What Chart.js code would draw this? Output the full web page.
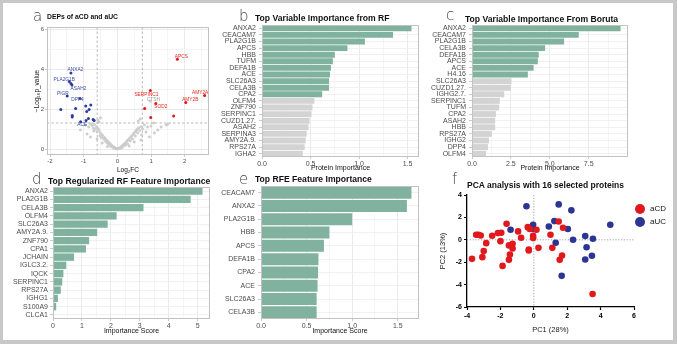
<!DOCTYPE html>
<html>
<head>
<meta charset="utf-8">
<script src="https://cdn.jsdelivr.net/npm/chart.js@4.4.0/dist/chart.umd.min.js"></script>
<style>
  body { margin: 0; background: #fff; }
  #fig { position: relative; width: 677px; height: 344px; overflow: hidden; background: #fff; }
  #frame { position: absolute; left: 0; top: 0; right: 0; bottom: 0; border: solid #c8c8c8; border-width: 3px 4px 4px 3px; pointer-events: none; }
  canvas { position: absolute; }
  .lbl { position: absolute; font-family: "Liberation Sans", Arial, sans-serif; white-space: nowrap; line-height: 1; color: #111; }
  .letter { font-family: "DejaVu Sans", sans-serif; font-weight: 200; font-size: 15px; color: #444; }
  .ttl { font-weight: bold; font-size: 8.6px; }
  .dot { position: absolute; width: 10px; height: 10px; border-radius: 50%; }
</style>
</head>
<body>
<div id="fig">
  <canvas id="chartA"></canvas>
  <canvas id="chartB"></canvas>
  <canvas id="chartC"></canvas>
  <canvas id="chartD"></canvas>
  <canvas id="chartE"></canvas>
  <canvas id="chartF"></canvas>

  <div class="lbl letter" style="left:33px;top:9px">a</div>
  <div class="lbl ttl" style="left:47px;top:13.5px;font-size:6.8px">DEPs of aCD and aUC</div>
  <div class="lbl letter" style="left:239px;top:9px">b</div>
  <div class="lbl ttl" style="left:255px;top:13.5px">Top Variable Importance from RF</div>
  <div class="lbl letter" style="left:446px;top:8px">c</div>
  <div class="lbl ttl" style="left:465px;top:14.5px">Top Variable Importance From Boruta</div>
  <div class="lbl letter" style="left:32px;top:172px">d</div>
  <div class="lbl ttl" style="left:48px;top:176.5px">Top Regularized RF Feature Importance</div>
  <div class="lbl letter" style="left:239px;top:172px">e</div>
  <div class="lbl ttl" style="left:255px;top:174.5px">Top RFE Feature Importance</div>
  <div class="lbl letter" style="left:452px;top:172px">f</div>
  <div class="lbl ttl" style="left:467px;top:180.5px;font-size:8.5px">PCA analysis with 16 selected proteins</div>

  <div class="dot" style="left:635px;top:204px;background:#e0191f"></div>
  <div class="lbl" style="left:650px;top:205px;font-size:8px">aCD</div>
  <div class="dot" style="left:635px;top:217px;background:#2d3593"></div>
  <div class="lbl" style="left:650px;top:218px;font-size:8px">aUC</div>

  <div id="frame"></div>
</div>
<script>
// ---- a: volcano ----
const upFC = [1.78, 2.59, 2.03, 0.98, 1.14, 0.81, 0.99, 1.67];
const upP = [4.49, 2.67, 2.32, 2.92, 2.28, 2.03, 1.58, 1.65];
const upNames = ['APCS', 'AMY2A', 'AMY2B', 'SERPINC1', 'SOD2', '', '', ''];

const downFC = [-1.38, -1.43, -1.38, -1.35, -1.49, -1.11, -1.09, -1.68, -1.24, -0.94, -0.79, -0.84, -0.91, -1.34, -1.34, -0.86, -0.93, -0.72, -0.69];
const downP = [3.80, 3.37, 3.28, 3.20, 2.65, 2.53, 1.36, 1.98, 2.03, 2.15, 2.20, 1.98, 1.87, 1.67, 1.60, 1.53, 1.42, 1.48, 1.42];
const downNames = ['ANXA2', 'PLA2G1B', '', 'ASAH2', 'PIGR', 'DPP4', 'ACE'];

const nsFC = [0.98,
  -0.02, -0.05, -0.08, -0.1, -0.12, -0.15, -0.18, -0.2, -0.22, -0.25, -0.27, -0.3, -0.32, -0.35, -0.37, -0.4, -0.42,
  -0.45, -0.47, -0.5, -0.52, -0.55, -0.57, -0.6, -0.62, -0.65, -0.68, -0.7, -0.72, -0.75, -0.8, -0.85, -0.9, -0.95,
  -1.1, -0.55, -0.5, -0.58, -0.3, -0.45, -0.6, -0.8,
  0.02, 0.05, 0.08, 0.1, 0.13, 0.15, 0.18, 0.2, 0.23, 0.25, 0.28, 0.3, 0.33, 0.35, 0.38, 0.4, 0.43, 0.45, 0.48,
  0.5, 0.53, 0.55, 0.58, 0.6, 0.63, 0.66, 0.7, 0.72, 0.75, 0.8, 0.85, 0.9, 0.95, 1.0, 1.08, 1.2, 1.3, 1.45, 1.5,
  0.62, 0.68, 0.35, 0.5, 0.7, 1.1];
const nsP = [2.40,
  0.01, 0.03, 0.06, 0.1, 0.05, 0.14, 0.2, 0.12, 0.28, 0.22, 0.36, 0.3, 0.45, 0.38, 0.55, 0.48, 0.62,
  0.7, 0.56, 0.8, 0.66, 0.92, 1.02, 0.85, 1.12, 1.0, 1.22, 0.9, 1.05, 1.18, 1.26, 1.1, 0.75, 1.2,
  0.95, 1.35, 1.55, 1.45, 0.12, 0.3, 0.5, 0.6,
  0.02, 0.05, 0.03, 0.09, 0.15, 0.08, 0.2, 0.26, 0.18, 0.32, 0.4, 0.25, 0.46, 0.52, 0.4, 0.6, 0.66, 0.5, 0.75,
  0.82, 0.65, 0.9, 0.98, 0.8, 1.05, 0.92, 1.12, 0.7, 1.0, 1.2, 0.85, 1.1, 0.6, 1.15, 1.3, 0.95, 1.1, 1.2, 1.25,
  1.4, 1.5, 0.15, 0.35, 0.45, 0.8];
const nsNames = ['CTSH'];

const fcCuts = [-0.6, 0.74];
const pCut = 1.3;

// ---- b: RF ----
const rfProteins = ['ANXA2', 'CEACAM7', 'PLA2G1B', 'APCS', 'HBB', 'TUFM', 'DEFA1B', 'ACE', 'SLC26A3', 'CELA3B', 'CPA2',
  'OLFM4', 'ZNF790', 'SERPINC1', 'CUZD1.27.', 'ASAH2', 'SERPINA3', 'AMY2A.9.', 'RPS27A', 'IGHA2'];
const rfImportance = [1.54, 1.35, 1.06, 0.88, 0.75, 0.73, 0.71, 0.70, 0.69, 0.69, 0.62,
  0.54, 0.52, 0.51, 0.49, 0.48, 0.46, 0.45, 0.44, 0.42];
const rfSelected = 11;

// ---- c: Boruta ----
const borutaProteins = ['ANXA2', 'CEACAM7', 'PLA2G1B', 'CELA3B', 'DEFA1B', 'APCS', 'ACE', 'H4.16', 'SLC26A3', 'CUZD1.27.',
  'IGHG2.7.', 'SERPINC1', 'TUFM', 'CPA2', 'ASAH2', 'HBB', 'RPS27A', 'IGHG2', 'DPP4', 'OLFM4'];
const borutaImportance = [9.55, 6.86, 5.92, 4.70, 4.29, 4.23, 3.96, 3.59, 2.54, 2.50,
  2.07, 1.79, 1.75, 1.54, 1.49, 1.49, 1.28, 1.09, 1.03, 0.90];
const borutaSelected = 8;

// ---- d: regularized RF ----
const rrfProteins = ['ANXA2', 'PLA2G1B', 'CELA3B', 'OLFM4', 'SLC26A3', 'AMY2A.9.', 'ZNF790', 'CPA1', 'JCHAIN', 'IGLC3.2.',
  'IQCK', 'SERPINC1', 'RPS27A', 'IGHG1', 'S100A9', 'CLCA1'];
const rrfScore = [5.17, 4.76, 3.13, 2.20, 1.89, 1.53, 1.25, 1.14, 0.73, 0.46, 0.36, 0.32, 0.27, 0.17, 0.11, 0.01];

// ---- e: RFE ----
const rfeProteins = ['CEACAM7', 'ANXA2', 'PLA2G1B', 'HBB', 'APCS', 'DEFA1B', 'CPA2', 'ACE', 'SLC26A3', 'CELA3B'];
const rfeScore = [1.65, 1.60, 1.00, 0.75, 0.69, 0.63, 0.625, 0.62, 0.61, 0.61];

// ---- f: PCA ----
const cdPC1 = [-3.7, -3.45, -3.32, -3.18, -3.08, -3.0, -2.85, -2.49, -2.15, -1.95, -2.0, -1.87, -1.63, -1.49, -1.49, -1.43,
  -1.27, -1.27, -0.94, -0.76, -0.36, -0.24, -0.3, -0.3, -0.04, -0.04, 0.16, 0.28, 1.0, 1.11, 1.49, 1.55, 1.75, 1.69, 3.52];
const cdPC2 = [-1.7, 0.45, 0.45, 0.39, -1.55, -1.0, -0.3, 0.36, 0.6, 0.63, -0.12, -2.33, 1.43, -0.5, -1.79, -1.31,
  -0.36, -0.78, 0.75, 0.18, 1.13, 0.96, -0.87, -0.96, 0.36, 0.15, 0.9, -0.72, 0.45, -0.72, 1.64, -1.79, 1.07, -1.4, -4.84];
const ucPC1 = [-0.44, 1.49, 2.25, 1.23, 0.9, -1.39, -0.04, -0.04, 2.04, 4.58, 3.08, 3.54, 2.35, 1.31, 3.16, 3.08, 3.48, 1.67];
const ucPC2 = [2.99, 3.16, 2.63, 1.67, 1.19, 0.9, 1.34, 0.96, 0.96, 1.34, 0.33, 0.09, 0.0, -0.27, -0.66, -1.76, -1.43, -3.22];

// label nudges in pixels, kept apart from the data
const labelNudge = {
  ANXA2: [4.5, -3], PLA2G1B: [-5, -1.5], ASAH2: [6.5, 3.3], PIGR: [-4.3, -2.7], DPP4: [-2.5, 1], ACE: [1.5, 2.5],
  APCS: [4, -2.6], SERPINC1: [-4, 3.6], AMY2A: [-4.5, -3.4], AMY2B: [4.5, -3.4], SOD2: [5, 3.4], CTSH: [3, -1]
};

const GREEN = '#80b29f';
const GREY = '#d3d3d3';
const AXIS_TXT = '#4d4d4d';

Chart.defaults.font.family = '"Liberation Sans", Arial, Helvetica, sans-serif';
Chart.defaults.animation = false;
Chart.defaults.events = [];
Chart.defaults.responsive = false;
Chart.defaults.maintainAspectRatio = false;
Chart.defaults.devicePixelRatio = 1;
Chart.defaults.plugins.legend.display = false;
Chart.defaults.plugins.tooltip.enabled = false;

function place(id, left, top, w, h) {
  const c = document.getElementById(id);
  c.width = w; c.height = h;
  c.style.left = left + 'px'; c.style.top = top + 'px';
  c.style.width = w + 'px'; c.style.height = h + 'px';
  return c;
}

function pts(xs, ys) {
  return xs.map((x, i) => ({ x: x, y: ys[i] }));
}

function isMajor(v, step) {
  return Math.abs(v / step - Math.round(v / step)) < 1e-6;
}

function fixWidth(w) {
  return s => { s.width = w; s.paddingTop = 0; s.paddingBottom = 0; };
}

function fixHeight(h) {
  return s => { s.height = h; s.paddingLeft = 0; s.paddingRight = 0; };
}

const panelBox = {
  id: 'panelBox',
  afterDatasetsDraw(chart) {
    const a = chart.chartArea;
    const ctx = chart.ctx;
    ctx.save();
    ctx.strokeStyle = '#c2c2c2';
    ctx.lineWidth = 1;
    ctx.strokeRect(a.left + 0.5, a.top + 0.5, a.right - a.left - 1, a.bottom - a.top - 1);
    ctx.restore();
  }
};

const cutLines = {
  id: 'cutLines',
  beforeDatasetsDraw(chart) {
    const { ctx, chartArea: a, scales } = chart;
    ctx.save();
    ctx.strokeStyle = '#a8a8a8';
    ctx.lineWidth = 0.8;
    ctx.setLineDash([2.5, 2]);
    fcCuts.forEach(v => {
      const x = scales.x.getPixelForValue(v);
      ctx.beginPath(); ctx.moveTo(x, a.top); ctx.lineTo(x, a.bottom); ctx.stroke();
    });
    const y = scales.y.getPixelForValue(pCut);
    ctx.beginPath(); ctx.moveTo(a.left, y); ctx.lineTo(a.right, y); ctx.stroke();
    ctx.restore();
  }
};

const pointNames = {
  id: 'pointNames',
  afterDatasetsDraw(chart) {
    const ctx = chart.ctx;
    ctx.save();
    ctx.font = '4.8px "Liberation Sans", Arial, sans-serif';
    ctx.textAlign = 'center';
    ctx.textBaseline = 'middle';
    chart.data.datasets.forEach((ds, di) => {
      const meta = chart.getDatasetMeta(di);
      (ds.names || []).forEach((name, i) => {
        if (!name) return;
        const p = meta.data[i];
        const n = labelNudge[name] || [0, -4];
        ctx.fillStyle = ds.labelColor;
        ctx.fillText(name, p.x + n[0], p.y + n[1]);
      });
    });
    ctx.restore();
  }
};

const zeroLines = {
  id: 'zeroLines',
  beforeDatasetsDraw(chart) {
    const { ctx, chartArea: a, scales } = chart;
    ctx.save();
    ctx.strokeStyle = '#8a8a8a';
    ctx.lineWidth = 0.8;
    ctx.setLineDash([1.2, 1.6]);
    const x = scales.x.getPixelForValue(0);
    const y = scales.y.getPixelForValue(0);
    ctx.beginPath(); ctx.moveTo(x, a.top); ctx.lineTo(x, a.bottom); ctx.stroke();
    ctx.beginPath(); ctx.moveTo(a.left, y); ctx.lineTo(a.right, y); ctx.stroke();
    ctx.restore();
  }
};

function ggAxis(tickList, step, fmt, size) {
  return {
    afterBuildTicks: s => { s.ticks = tickList.map(v => ({ value: v })); },
    grid: {
      color: c => (c.tick && isMajor(c.tick.value, step)) ? '#e4e4e4' : '#f2f2f2',
      lineWidth: 0.8,
      tickLength: 2,
      tickColor: c => (c.tick && isMajor(c.tick.value, step)) ? '#bdbdbd' : 'rgba(0,0,0,0)'
    },
    border: { display: false },
    ticks: {
      autoSkip: false, maxRotation: 0, padding: 1, color: AXIS_TXT, font: { size: size },
      callback: v => isMajor(v, step) ? fmt(v) : ''
    }
  };
}

// ---- a ----
const xA = ggAxis([-2, -1.5, -1, -0.5, 0, 0.5, 1, 1.5, 2, 2.5], 1, v => String(v), 6);
xA.min = -2.09; xA.max = 2.72;
xA.afterFit = fixHeight(19);
xA.title = { display: true, text: 'Log\u2082FC', color: '#111', font: { size: 6.5 }, padding: 0 };
const yA = ggAxis([0, 1, 2, 3, 4, 5, 6], 2, v => String(v), 6);
yA.min = -0.3; yA.max = 6.1;
yA.afterFit = fixWidth(17);
yA.title = { display: true, text: '\u2212Log\u2081\u2080p_value', color: '#111', font: { size: 6.5 }, padding: { top: 3, bottom: 0 } };

new Chart(place('chartA', 30, 20, 185, 154), {
  type: 'scatter',
  data: {
    datasets: [
      { data: pts(nsFC, nsP), names: nsNames, labelColor: '#a0a0a0', pointRadius: 1.2, backgroundColor: '#d4d4d4', borderColor: '#bcbcbc', borderWidth: 0.4, clip: false },
      { data: pts(downFC, downP), names: downNames, labelColor: '#3b4ba5', pointRadius: 1.5, backgroundColor: '#2e3b9a', borderWidth: 0, clip: false },
      { data: pts(upFC, upP), names: upNames, labelColor: '#e3261f', pointRadius: 1.5, backgroundColor: '#e0161b', borderWidth: 0, clip: false }
    ]
  },
  options: {
    layout: { padding: { top: 7, right: 6, left: 0, bottom: 0 } },
    scales: { x: xA, y: yA }
  },
  plugins: [cutLines, pointNames, panelBox]
});

// ---- bar panels ----
function barChart(id, box, labels, values, nSelected, cfg) {
  const x = ggAxis(cfg.ticks, cfg.step, cfg.fmt, 7);
  x.min = 0;
  x.max = Math.max(...values) * 1.05;
  x.afterFit = fixHeight(cfg.xh);
  x.title = { display: true, text: cfg.xTitle, color: '#111', font: { size: 7 }, padding: 0 };
  return new Chart(place(id, box[0], box[1], box[2], box[3]), {
    type: 'bar',
    data: {
      labels: labels,
      datasets: [{
        data: values,
        backgroundColor: values.map((v, i) => i < nSelected ? GREEN : GREY),
        barPercentage: 0.9,
        categoryPercentage: 1
      }]
    },
    options: {
      indexAxis: 'y',
      layout: { padding: cfg.pad },
      scales: {
        x: x,
        y: {
          afterFit: fixWidth(cfg.yw),
          grid: { offset: false, color: '#ededed', lineWidth: 0.8, tickLength: 3, tickColor: '#bdbdbd' },
          border: { display: false },
          ticks: { autoSkip: false, padding: cfg.lp, color: AXIS_TXT, font: { size: 7 } }
        }
      }
    },
    plugins: [panelBox]
  });
}

const fix1 = v => v.toFixed(1);

barChart('chartB', [200, 20, 225, 152], rfProteins, rfImportance, rfSelected, {
  ticks: [0, 0.25, 0.5, 0.75, 1, 1.25, 1.5], step: 0.5, fmt: fix1,
  xTitle: 'Protein Importance', xh: 15, yw: 62, lp: 3, pad: { top: 5, right: 6, left: 0, bottom: 0 }
});

barChart('chartC', [415, 20, 218, 152], borutaProteins, borutaImportance, borutaSelected, {
  ticks: [0, 1.25, 2.5, 3.75, 5, 6.25, 7.5, 8.75], step: 2.5, fmt: fix1,
  xTitle: 'Protein Importance', xh: 15, yw: 57, lp: 3, pad: { top: 5, right: 5, left: 0, bottom: 0 }
});

barChart('chartD', [5, 183, 210, 152], rrfProteins, rrfScore, rrfProteins.length, {
  ticks: [0, 0.5, 1, 1.5, 2, 2.5, 3, 3.5, 4, 4.5, 5], step: 1, fmt: v => String(v),
  xTitle: 'Importance Score', xh: 16, yw: 48, lp: 2, pad: { top: 4, right: 5, left: 0, bottom: 0 }
});

barChart('chartE', [215, 182, 210, 153], rfeProteins, rfeScore, rfeProteins.length, {
  ticks: [0, 0.25, 0.5, 0.75, 1, 1.25, 1.5], step: 0.5, fmt: fix1,
  xTitle: 'Importance Score', xh: 16, yw: 46, lp: 3, pad: { top: 4, right: 6, left: 0, bottom: 0 }
});

// ---- f ----
function prismAxis(min, max, title, titlePad) {
  return {
    type: 'linear', min: min, max: max,
    grid: { drawOnChartArea: false, tickLength: 3, tickColor: '#000', tickWidth: 1.2 },
    border: { color: '#000', width: 1.3 },
    ticks: { stepSize: 2, padding: 2, color: '#000', font: { size: 7, weight: 'bold' } },
    title: { display: true, text: title, color: '#222', font: { size: 7.5 }, padding: titlePad }
  };
}

const xF = prismAxis(-4, 6, 'PC1 (28%)', { top: 0, bottom: 1.5 });
xF.afterFit = fixHeight(29);
const yF = prismAxis(-6, 4, 'PC2 (13%)', { top: 2.5, bottom: 0 });
yF.afterFit = fixWidth(31);

new Chart(place('chartF', 436, 188, 206, 148), {
  type: 'scatter',
  data: {
    datasets: [
      { data: pts(cdPC1, cdPC2), pointRadius: 3.3, backgroundColor: '#e0191f', borderWidth: 0, clip: false },
      { data: pts(ucPC1, ucPC2), pointRadius: 3.3, backgroundColor: '#2d3593', borderWidth: 0, clip: false }
    ]
  },
  options: {
    layout: { padding: { top: 7, right: 8, left: 0, bottom: 0 } },
    scales: { x: xF, y: yF }
  },
  plugins: [zeroLines]
});
</script>
</body>
</html>
